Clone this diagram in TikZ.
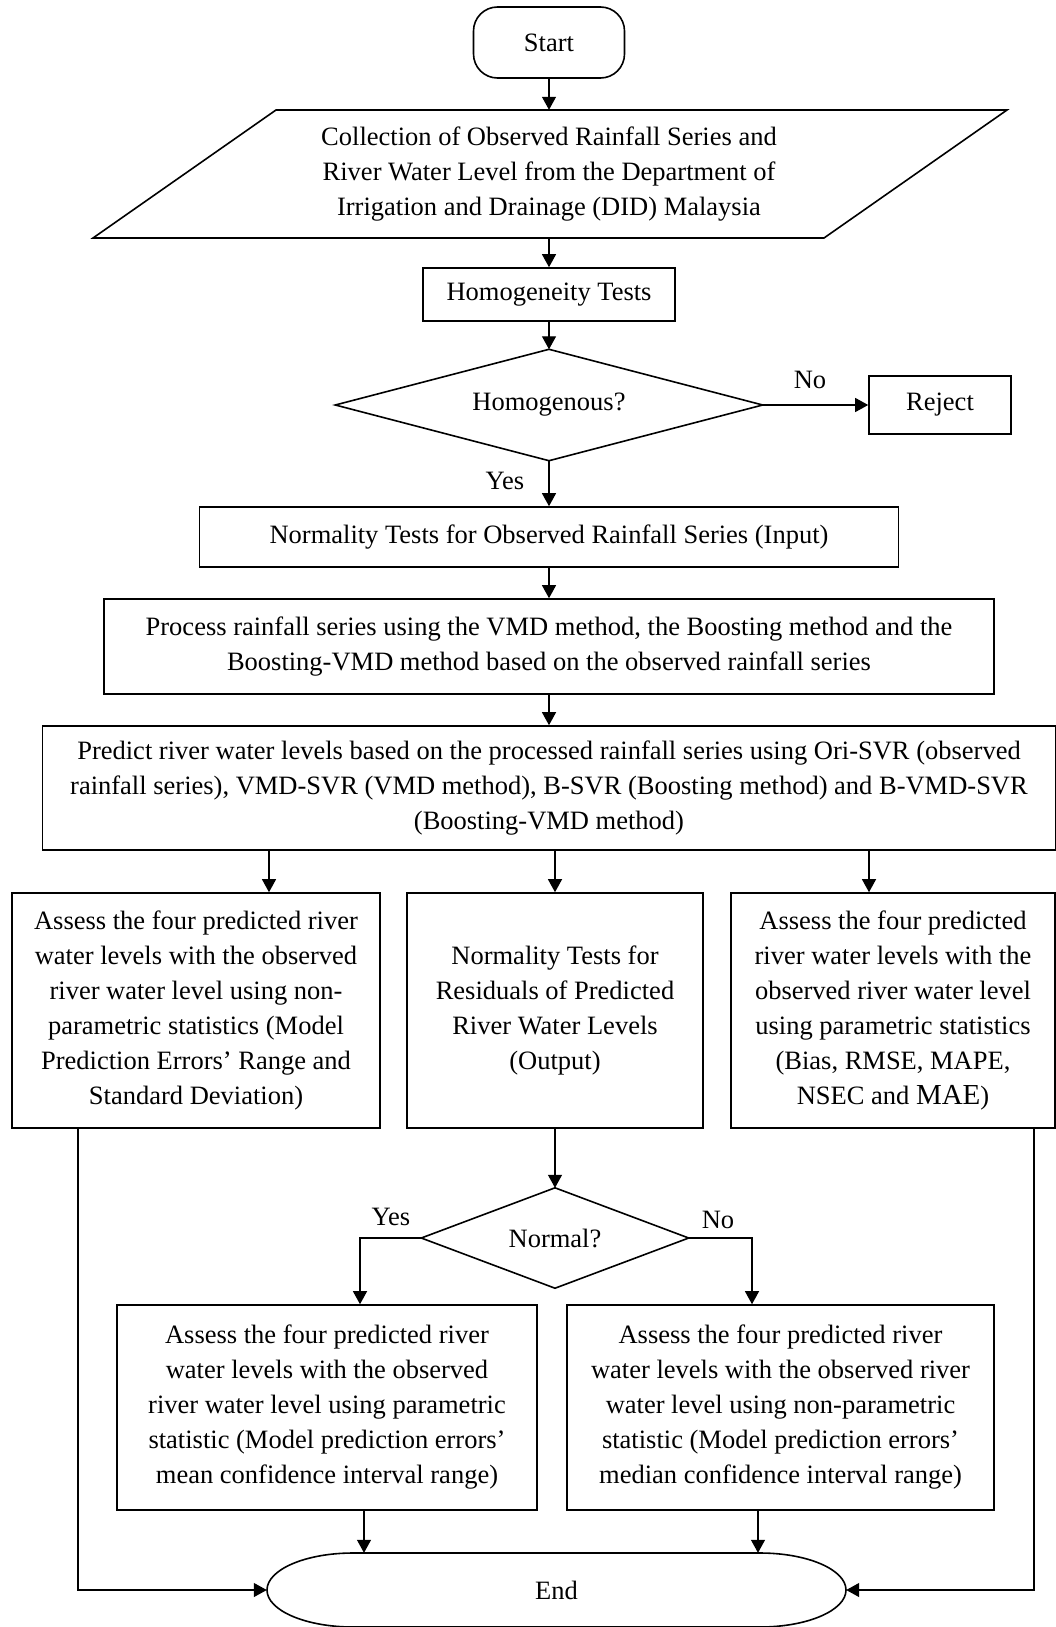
\documentclass[tikz,border=0pt]{standalone}
\usepackage{fontspec}
\setmainfont{Liberation Serif}
\usetikzlibrary{arrows.meta,shapes.geometric}
\begin{document}
\begin{tikzpicture}[x=1pt,y=-1pt,
  txt/.style={font=\fontsize{26.5}{35}\selectfont, align=center, inner sep=0pt},
  box/.style={txt, draw, line width=1.6pt},
  startbox/.style={box, rounded corners=24pt},
  outline/.style={draw, line width=1.6pt, line join=miter},
  arr/.style={line width=1.2pt, -{Triangle[length=13pt,width=14pt]}},
  ln/.style={line width=1.2pt}]
\useasboundingbox (0,0) rectangle (1056,1627);

% nodes
\node[startbox, minimum width=151pt, minimum height=71pt] (start) at (549,42.5) {Start};
\node[txt, minimum width=500pt, minimum height=128pt] (coll) at (549,174)
  {Collection of Observed Rainfall Series and\\River Water Level from the Department of\\Irrigation and Drainage (DID) Malaysia};
\draw[outline] (276,110) -- (1007,110) -- (824,238) -- (93,238) -- cycle;
\node[box, minimum width=252pt, minimum height=53pt] (homo) at (549,294.5) {Homogeneity Tests};
\node[txt, minimum width=427pt, minimum height=111pt] (hdec) at (549,405) {Homogenous?};
\draw[outline] (hdec.north) -- (hdec.east) -- (hdec.south) -- (hdec.west) -- cycle;
\node[box, minimum width=142pt, minimum height=58pt] (reject) at (940,405) {Reject};
\node[txt] (lno) at (810,380) {No};
\node[txt] (lyes) at (505,481) {Yes};
\node[box, minimum width=699pt, minimum height=60pt] (norm1) at (549,537)
  {Normality Tests for Observed Rainfall Series (Input)};
\node[box, minimum width=890pt, minimum height=95pt] (proc) at (549,646.5)
  {Process rainfall series using the VMD method, the Boosting method and the\\Boosting-VMD method based on the observed rainfall series};
\node[box, minimum width=1013pt, minimum height=124pt] (pred) at (549,788)
  {Predict river water levels based on the processed rainfall series using Ori-SVR (observed\\rainfall series), VMD-SVR (VMD method), B-SVR (Boosting method) and B-VMD-SVR\\(Boosting-VMD method)};
\node[box, minimum width=368pt, minimum height=235pt] (lbox) at (196,1010.5)
  {Assess the four predicted river\\water levels with the observed\\river water level using non-\\parametric statistics (Model\\Prediction Errors’ Range and\\Standard Deviation)};
\node[box, minimum width=296pt, minimum height=235pt] (mbox) at (555,1010.5)
  {Normality Tests for\\Residuals of Predicted\\River Water Levels\\(Output)};
\node[box, minimum width=324pt, minimum height=235pt] (rbox) at (893,1010.5)
  {Assess the four predicted\\river water levels with the\\observed river water level\\using parametric statistics\\(Bias, RMSE, MAPE,\\NSEC and {\fontsize{29}{35}\selectfont MAE})};
\node[txt, minimum width=267pt, minimum height=100pt] (ndec) at (555,1238) {Normal?};
\draw[outline] (ndec.north) -- (ndec.east) -- (ndec.south) -- (ndec.west) -- cycle;
\node[txt] (lyes2) at (391,1217) {Yes};
\node[txt] (lno2) at (718,1220) {No};
\node[box, minimum width=420pt, minimum height=205pt] (blbox) at (327,1407.5)
  {Assess the four predicted river\\water levels with the observed\\river water level using parametric\\statistic (Model prediction errors’\\mean confidence interval range)};
\node[box, minimum width=427pt, minimum height=205pt] (brbox) at (780.5,1407.5)
  {Assess the four predicted river\\water levels with the observed river\\water level using non-parametric\\statistic (Model prediction errors’\\median confidence interval range)};
\node[txt, minimum width=579pt, minimum height=74pt] (end) at (556.5,1590) {End};
\draw[outline] (353,1553) -- (760,1553)
  .. controls (807.5,1553) and (846,1569.6) .. (846,1590)
  .. controls (846,1610.4) and (807.5,1627) .. (760,1627)
  -- (353,1627)
  .. controls (305.5,1627) and (267,1610.4) .. (267,1590)
  .. controls (267,1569.6) and (305.5,1553) .. cycle;

% connectors
\draw[arr] (start.south) -- (coll.north);
\draw[arr] (coll.south) -- (homo.north);
\draw[arr] (homo.south) -- (hdec.north);
\draw[arr] (hdec.east) -- (reject.west);
\draw[arr] (hdec.south) -- (norm1.north);
\draw[arr] (norm1.south) -- (proc.north);
\draw[arr] (proc.south) -- (pred.north);
\draw[arr] ([xshift=73pt]lbox.north |- pred.south) -- ([xshift=73pt]lbox.north);
\draw[arr] (mbox.north |- pred.south) -- (mbox.north);
\draw[arr] ([xshift=-24pt]rbox.north |- pred.south) -- ([xshift=-24pt]rbox.north);
\draw[arr] (mbox.south) -- (ndec.north);
\draw[arr] (ndec.west) -| ([xshift=33pt]blbox.north);
\draw[arr] (ndec.east) -| ([xshift=-28.5pt]brbox.north);
\draw[arr] ([xshift=37pt]blbox.south) -- ([xshift=37pt]blbox.south |- end.north);
\draw[arr] ([xshift=-22.5pt]brbox.south) -- ([xshift=-22.5pt]brbox.south |- end.north);
\draw[arr] ([xshift=-118pt]lbox.south) |- (end.west);
\draw[arr] ([xshift=141pt]rbox.south) |- (end.east);
\end{tikzpicture}
\end{document}
